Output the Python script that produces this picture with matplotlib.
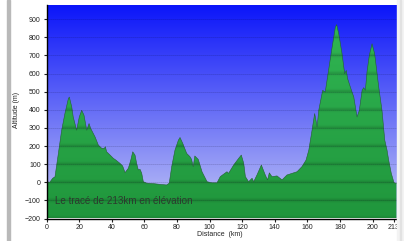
import numpy as np
import matplotlib
matplotlib.use("Agg")
from matplotlib import pyplot as plt
from matplotlib.patches import Rectangle

# profile (km, m)
dist = [0, 2, 3.8, 5.2, 7.3, 9.3, 11.3, 13.4, 14, 15.5,
        16.4, 18.5, 20.1, 21.6, 23, 24.7, 26.1, 27.1, 29.8, 31.8,
        33.9, 35.5, 36.1, 36.9, 39, 41, 42.6, 45.1, 46.7, 48.2,
        50.2, 51.7, 52.9, 54.3, 55.3, 56.3, 57.4, 58.4, 59.4, 61.5,
        66, 70, 73.7, 75.3, 76.8, 78.8, 80.9, 81.9, 83.6, 86,
        88, 89, 90, 91, 93.1, 95.4, 98.5, 101.5, 104.6, 106.6,
        110.7, 111.7, 114.8, 117.9, 119.5, 121, 122, 124, 126.1, 127.1,
        129.1, 131.8, 134.2, 135.6, 136.7, 138.3, 141.4, 144.5, 147.5, 150.6,
        153.7, 156.7, 159.2, 160.9, 162.9, 164.5, 165.3, 166, 167, 168.6,
        169.4, 171, 172.7, 175.2, 177.2, 178, 179.3, 181.3, 182.9, 183.9,
        184.7, 186.4, 188.5, 190.5, 191.9, 193.6, 194.6, 195.6, 196.6, 198,
        199.7, 201.3, 203.8, 205.8, 207.5, 208.9, 209.9, 211.5, 213, 213.5,
        214.7]
elev = [3, 0, 22, 30, 160, 287, 379, 461, 470, 415,
        360, 287, 360, 397, 370, 287, 324, 297, 250, 205,
        187, 187, 196, 168, 150, 132, 122, 104, 90, 53,
        77, 122, 168, 150, 104, 68, 71, 50, 3, -5,
        -8, -12, -15, -5, 86, 177, 232, 247, 214, 159,
        141, 126, 86, 145, 126, 58, 3, -3, -3, 31,
        58, 49, 95, 132, 150, 104, 31, 3, 22, 3,
        40, 95, 40, 13, 52, 31, 35, 13, 40, 49,
        58, 86, 122, 177, 287, 379, 342, 305, 397, 470,
        507, 498, 599, 745, 855, 870, 818, 709, 599, 617,
        572, 525, 470, 360, 397, 507, 522, 507, 608, 699,
        764, 709, 525, 397, 232, 177, 122, 49, 3, -5,
        -5]

xticks = [0, 20, 40, 60, 80, 100, 120, 140, 160, 180, 200, 213]
yticks = list(range(-200, 1000, 100))
title_txt = "Le tracé de 213km en élévation"

ymin, ymax = -200, 978
xmax = 214.7

fig = plt.figure(figsize=(4.04, 2.41), dpi=100)
fig.patch.set_facecolor("white")
# frame bits around the crop
fig.patches.append(Rectangle((7.3 / 404, 0), 2.8 / 404, 1, transform=fig.transFigure,
                             color="#b9b9b9", zorder=0))
fig.patches.append(Rectangle((397 / 404, 0), 7 / 404, 1, transform=fig.transFigure,
                             color="#f3f3f3", zorder=0))
fig.patches.append(Rectangle((399.5 / 404, 0), 1 / 404, 1, transform=fig.transFigure,
                             color="#e2e2e2", zorder=0))

ax = fig.add_axes([46.5 / 404, 1 - 218.5 / 241, 350 / 404, 213.5 / 241])

# sky gradient
yy = np.linspace(ymax, ymin, 400)[:, None]
t = np.clip((ymax - yy) / (ymax - 0), 0, 1.2)
top = np.array([10, 20, 250]) / 255
bot = np.array([165, 170, 245]) / 255
sky = top + (bot - top) * t[..., None]
sky = np.clip(sky, 0, 1) * np.ones((1, 2, 1))
ax.imshow(sky, extent=[0, xmax, ymin, ymax], aspect="auto", zorder=0,
          interpolation="bilinear")

# green fill with banding, clipped to the profile
d = ((yy + 200) % 100)
shade = 1 - 0.16 * np.exp(-((100 - d) / 12) ** 2) - 0.10 * np.exp(-(d / 8) ** 2)
g_top = np.array([50, 185, 85]) / 255
g_bot = np.array([32, 150, 60]) / 255
tg = ((ymax - yy) / (ymax - ymin))[..., None]
green = (g_top + (g_bot - g_top) * tg) * shade[..., None]
green = np.clip(green, 0, 1) * np.ones((1, 2, 1))
poly = ax.fill_between(dist, elev, ymin, facecolor="none", edgecolor="none")
im = ax.imshow(green, extent=[0, xmax, ymin, ymax], aspect="auto", zorder=1,
               interpolation="bilinear")
im.set_clip_path(poly.get_paths()[0], transform=ax.transData)
ax.plot(dist, elev, color="#22602f", lw=0.4, zorder=2)

for yv in yticks:
    ax.axhline(yv, color=(0, 0, 0.1, 0.3), lw=0.6, ls=(0, (1, 1.4)), zorder=3)

ax.set_xlim(0, xmax)
ax.set_ylim(ymin, ymax)
ax.set_xticks(xticks)
ax.set_yticks(yticks)
ax.tick_params(direction="out", length=2, width=0.8, labelsize=5, pad=2.2,
               colors="#222222")
for lab in ax.get_xticklabels() + ax.get_yticklabels():
    lab.set_family("Liberation Sans")
for s in ["top", "right"]:
    ax.spines[s].set_visible(False)
ax.spines["left"].set_linewidth(1.0)
ax.spines["bottom"].set_linewidth(1.0)

ax.text(5.2, -105, title_txt, fontsize=7.1, family="Liberation Sans",
        color="#2c3a2e", va="center", ha="left", zorder=4)

fig.text(16 / 404, 1 - 110 / 241, "Altitude (m)", rotation=90, fontsize=5,
         family="Liberation Sans", ha="center", va="center", color="#222222")
fig.text(220 / 404, 1 - 235 / 241, "Distance  (km)", fontsize=5,
         family="Liberation Sans", ha="center", va="center", color="#222222")

fig.savefig("out.png", dpi=100)
